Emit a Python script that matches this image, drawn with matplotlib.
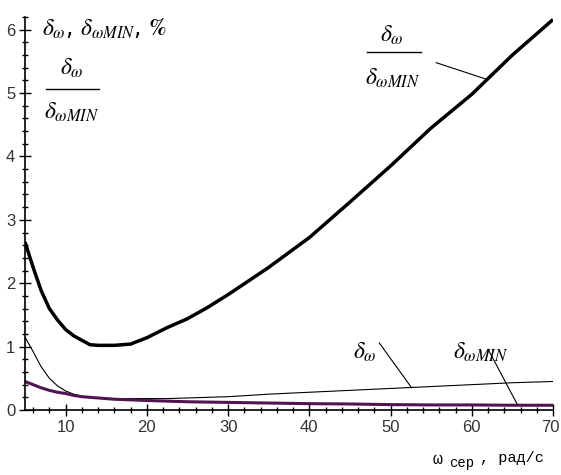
import numpy as np
import matplotlib.pyplot as plt
import matplotlib.transforms as mtransforms
from matplotlib.ticker import MultipleLocator

# omega_ser, rad/s
w = [5, 6, 7, 8, 9, 10, 11, 12, 13, 14, 16, 18, 20, 22.5, 25, 27.5, 30,
     35, 40, 45, 50, 55, 60, 65, 70]
# delta_w / delta_w_MIN
ratio = [2.65, 2.25, 1.88, 1.60, 1.42, 1.27, 1.17, 1.10, 1.03, 1.02, 1.02, 1.04,
         1.14, 1.30, 1.44, 1.62, 1.82, 2.25, 2.72, 3.28, 3.85, 4.45, 4.98, 5.60, 6.16]
# delta_w, %
d_w = [1.15, 0.92, 0.68, 0.50, 0.38, 0.30, 0.25, 0.22, 0.20, 0.19, 0.18, 0.18,
       0.18, 0.18, 0.19, 0.20, 0.21, 0.25, 0.28, 0.31, 0.34, 0.37, 0.40, 0.43, 0.45]
# delta_w_MIN, %
d_wmin = [0.45, 0.40, 0.35, 0.31, 0.28, 0.26, 0.23, 0.21, 0.20, 0.19, 0.17, 0.16,
          0.15, 0.14, 0.13, 0.125, 0.12, 0.11, 0.10, 0.095, 0.085, 0.08, 0.08, 0.075, 0.075]

xticks = [10, 20, 30, 40, 50, 60, 70]
yticks = [0, 1, 2, 3, 4, 5, 6]

plt.rcParams['mathtext.fontset'] = 'stix'

W, H = 561, 475
fig = plt.figure(figsize=(W / 100, H / 100), dpi=100)
ax = fig.add_axes([25 / W, 1 - 410 / H, (553 - 25) / W, (410 - 17) / H])

def px(x, y):
    return x / W, 1 - y / H

ax.plot(w, ratio, color='black', lw=2.5, solid_capstyle='butt')
ax.plot(w, d_w, color='black', lw=0.8)
ax.plot(w, d_wmin, color='#501450', lw=2.2)

ax.set_xlim(5, 70)
ax.set_ylim(0, 6.2)
for s in ['top', 'right']:
    ax.spines[s].set_visible(False)
ax.spines['left'].set_linewidth(1.2)
ax.spines['bottom'].set_linewidth(1.2)
ax.set_xticks(xticks)
ax.set_yticks(yticks)
ax.xaxis.set_minor_locator(MultipleLocator(2))
ax.yaxis.set_minor_locator(MultipleLocator(0.2))
ax.tick_params(which='major', direction='inout', length=8, width=1, labelsize=12,
               labelcolor='#333333', pad=3)
ax.tick_params(which='minor', direction='inout', length=5, width=1)
for lab in ax.get_xticklabels() + ax.get_yticklabels():
    lab.set_family('Liberation Sans')
# keep the last label inside the figure
last = ax.get_xticklabels()[-1]
last.set_transform(last.get_transform() +
                   mtransforms.ScaledTranslation(-3 / 100, 0, fig.dpi_scale_trans))

fs = 17

# axis title (top left)
fig.text(*px(42, 29), r'$\delta_{\omega}$, $\delta_{\omega MIN}$, $\mathbf{\%}$', fontsize=fs,
         ha='left', va='center')

# left fraction
fig.text(*px(72, 68), r'$\delta_{\omega}$', fontsize=fs, ha='center', va='center')
fig.add_artist(plt.Line2D([46 / W, 99 / W], [1 - 89 / H, 1 - 89 / H], color='black', lw=1))
fig.text(*px(72, 112), r'$\delta_{\omega MIN}$', fontsize=fs, ha='center', va='center')

# upper right fraction
fig.text(*px(392, 35), r'$\delta_{\omega}$', fontsize=fs, ha='center', va='center')
fig.add_artist(plt.Line2D([367 / W, 421 / W], [1 - 52 / H, 1 - 52 / H], color='black', lw=1))
fig.text(*px(393, 78), r'$\delta_{\omega MIN}$', fontsize=fs, ha='center', va='center')
ax.annotate('', xy=(62.0, 5.21), xytext=(55.6, 5.48),
            arrowprops=dict(arrowstyle='-', color='black', lw=0.8, shrinkA=0, shrinkB=0))

# lower labels
fig.text(*px(365, 352), r'$\delta_{\omega}$', fontsize=fs, ha='center', va='center')
fig.text(*px(481, 352), r'$\delta_{\omega MIN}$', fontsize=fs, ha='center', va='center')
ax.annotate('', xy=(52.6, 0.35), xytext=(48.6, 1.06),
            arrowprops=dict(arrowstyle='-', color='black', lw=0.8, shrinkA=0, shrinkB=0))
ax.annotate('', xy=(65.6, 0.09), xytext=(62.0, 0.96),
            arrowprops=dict(arrowstyle='-', color='black', lw=0.8, shrinkA=0, shrinkB=0))

# x axis label
fig.text(*px(433, 459), 'ω', fontsize=12, family='Liberation Mono', ha='left', va='center')
fig.text(*px(449, 463), 'сер', fontsize=10, family='Liberation Mono', ha='left', va='center')
fig.text(*px(480, 458), ', рад/с', fontsize=11, family='Liberation Mono', ha='left', va='center')

fig.savefig('out.png', dpi=100)
